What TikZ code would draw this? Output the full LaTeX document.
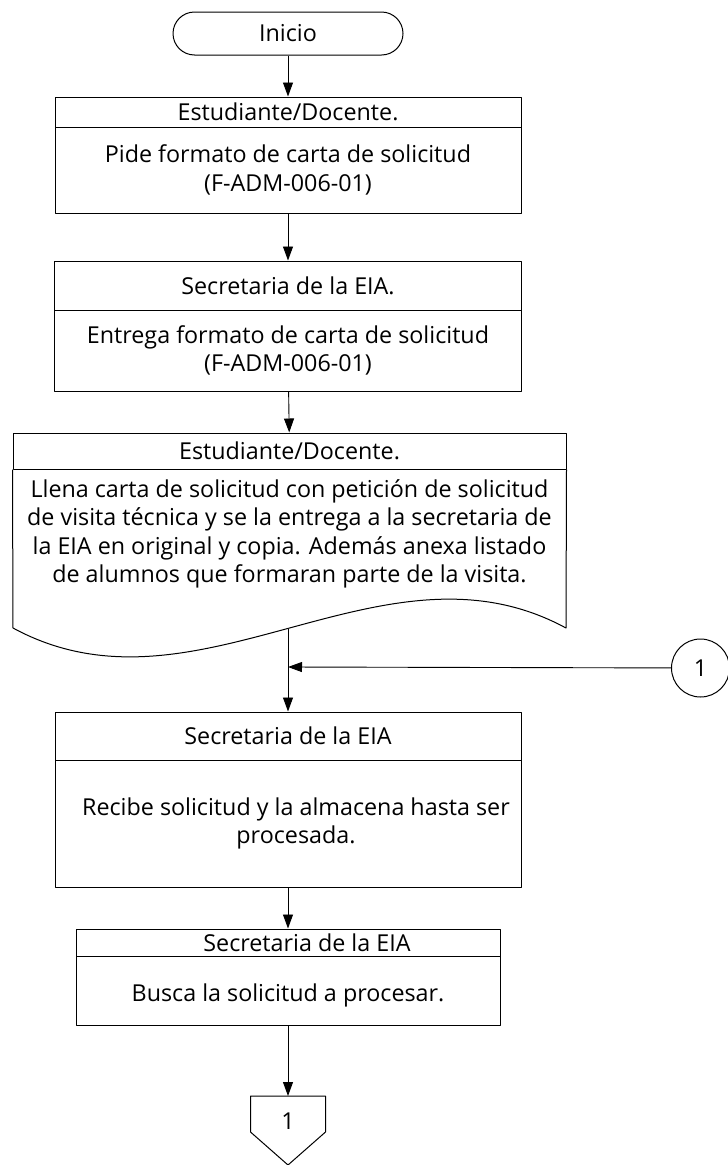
\documentclass[tikz,border=0pt]{standalone}
\usepackage{fontspec}
\setmainfont{Open Sans}
\usetikzlibrary{arrows.meta}
\begin{document}
\begin{tikzpicture}[x=1pt,y=-1pt,line join=round,>={Triangle[length=14pt,width=10pt]},
		caja/.style={draw,line width=1pt,inner sep=0pt,align=center},
		flecha/.style={->,line width=0.9pt},
		font=\fontsize{23.3}{28.3}\selectfont]
	\useasboundingbox (0,0) rectangle (728,1165);
	\node[caja,rounded corners=21.5pt,minimum width=230pt,minimum height=43pt] (ini) at (288,33.5) {Inicio};
	\node[caja,minimum width=466pt,minimum height=30pt] (h1) at (288,112) {Estudiante/Docente.};
	\node[caja,minimum width=466pt,minimum height=86pt] (b1) at (288,170) {Pide formato de carta de solicitud\\(F-ADM-006-01)};
	\node[caja,minimum width=467pt,minimum height=49pt] (h2) at (288,285.5) {Secretaria de la EIA.};
	\node[caja,minimum width=467pt,minimum height=81pt] (b2) at (288,350.5) {Entrega formato de carta de solicitud\\(F-ADM-006-01)};
	\node[caja,minimum width=553pt,minimum height=36pt] (h3) at (289.5,451) {Estudiante/Docente.};
	\node[align=center,inner sep=0pt] (b3) at (289.5,534) {Llena carta de solicitud con petición de solicitud\\de visita técnica y se la entrega a la secretaria de\\la EIA en original y copia. Además anexa listado\\de alumnos que formaran parte de la visita.};
	\draw[line width=1pt] (h3.south west) -- (13,628) .. controls (197.3,728) and (381.7,528) .. (566,628) -- (h3.south east);
	\coordinate (ola) at (288,628.5);
	\node[caja,circle,minimum size=58pt] (con) at (700.5,668) {1};
	\coordinate (j) at (288,667);
	\node[caja,minimum width=466pt,minimum height=48pt] (h4) at (288,736) {Secretaria de la EIA};
	\node[caja,minimum width=466pt,minimum height=127pt] (b4) at (288,823.5) {\hspace*{16pt}Recibe solicitud y la almacena hasta ser\\\hspace*{16pt}procesada.};
	\node[caja,minimum width=424pt,minimum height=27pt] (h5) at (288,942.5) {\hspace*{38pt}Secretaria de la EIA};
	\node[caja,minimum width=424pt,minimum height=69pt,text height=27pt,text depth=5pt] (b5) at (288,990.5) {Busca la solicitud a procesar.};
	\coordinate (off) at (288,1096);
	\draw[line width=1pt] (off) -- (325.5,1096) -- (325.5,1132) -- (288,1165) -- (250.5,1132) -- (250.5,1096) -- cycle;
	\node (num) at (288,1121) {1};
	\draw[flecha] (ini) -- (h1);
	\draw[flecha] (b1) -- (h2);
	\draw[flecha] (b2) -- (h3);
	\draw[flecha] (ola) -- (h4);
	\draw[flecha] (con) -- (j);
	\draw[flecha] (b4) -- (h5);
	\draw[flecha] (b5) -- (off);
\end{tikzpicture}
\end{document}
